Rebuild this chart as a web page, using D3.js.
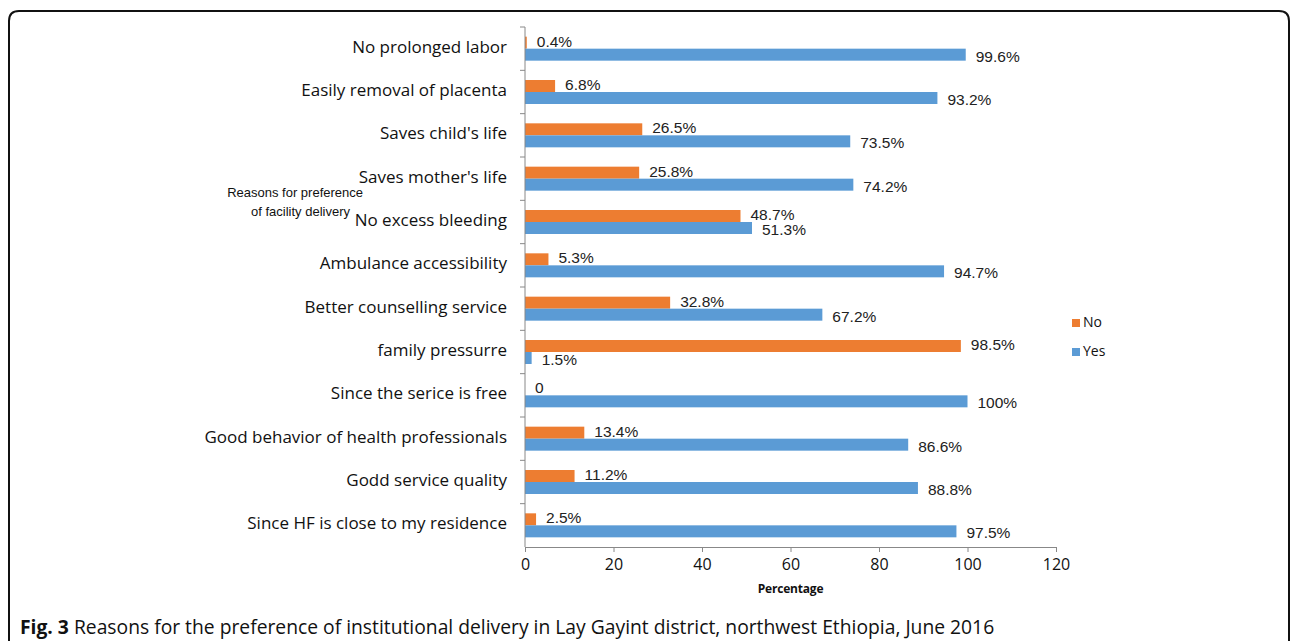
<!DOCTYPE html>
<html>
<head>
<meta charset="utf-8">
<script src="https://cdn.jsdelivr.net/npm/d3@7"></script>
<style>
  html, body { margin: 0; padding: 0; background: #fff; }
  svg { display: block; }
</style>
</head>
<body>
<div id="chart"></div>
<script>
// reasons, top to bottom as in the figure
const categories = [
    "No prolonged labor",
    "Easily removal of placenta",
    "Saves child's life",
    "Saves mother's life",
    "No excess bleeding",
    "Ambulance accessibility",
    "Better counselling service",
    "family pressurre",
    "Since the serice is free",
    "Good behavior of health professionals",
    "Godd service quality",
    "Since HF is close to my residence"
]
const noValues = [0.4, 6.8, 26.5, 25.8, 48.7, 5.3, 32.8, 98.5, 0, 13.4, 11.2, 2.5]
const yesValues = [99.6, 93.2, 73.5, 74.2, 51.3, 94.7, 67.2, 1.5, 100, 86.6, 88.8, 97.5]
const xTicks = [0, 20, 40, 60, 80, 100, 120]
const seriesNames = ["No", "Yes"]
const seriesColors = ["#ED7D31", "#5B9BD5"]

const width = 1292, height = 641
const plot = {left: 525, right: 1056, top: 27, bottom: 547}

const svg = d3.select("#chart").append("svg")
    .attr("width", width)
    .attr("height", height)

// figure frame (open at the bottom)
const r = 10
svg.append("path")
    .attr("d", `M9,${height + 5} L9,${11 + r} Q9,11 ${9 + r},11 L${1289 - r},11 Q1289,11 1289,${11 + r} L1289,${height + 5}`)
    .attr("fill", "none")
    .attr("stroke", "#111")
    .attr("stroke-width", 2)

const x = d3.scaleLinear().domain([0, 120]).range([plot.left, plot.right])
const y = d3.scaleBand().domain(categories).range([plot.top, plot.bottom])
const sub = d3.scaleBand().domain(seriesNames).range([y.bandwidth() / 2 - 12, y.bandwidth() / 2 + 12])

const rows = categories.map((c, i) => ({cat: c, values: [noValues[i], yesValues[i]]}))

const groups = svg.append("g")
    .selectAll("g")
    .data(rows)
    .enter()
    .append("g")
    .attr("transform", d => `translate(0, ${y(d.cat)})`)

const fmt = v => v === 0 ? "0" : v + "%"

seriesNames.forEach((s, k) => {
    groups.append("rect")
        .attr("x", x(0))
        .attr("y", sub(s))
        .attr("width", d => x(d.values[k]) - x(0))
        .attr("height", sub.bandwidth())
        .attr("fill", seriesColors[k])

    groups.append("text")
        .text(d => fmt(d.values[k]))
        .attr("x", d => x(d.values[k]) + 10)
        .attr("y", sub(s) + sub.bandwidth() / 2 + (k === 0 ? -1.5 : 1.5))
        .attr("dy", "0.35em")
        .attr("font-family", "Liberation Sans, Arial, sans-serif")
        .attr("font-size", 15.5)
        .attr("fill", "#222")
})

// y axis: line plus ticks at band edges
const yAxis = svg.append("g")
yAxis.append("line")
    .attr("x1", plot.left).attr("x2", plot.left)
    .attr("y1", plot.top).attr("y2", plot.bottom)
    .attr("stroke", "#888")
yAxis.selectAll("line.tick")
    .data(categories)
    .enter()
    .append("line")
    .attr("class", "tick")
    .attr("x1", plot.left - 5).attr("x2", plot.left)
    .attr("y1", d => y(d)).attr("y2", d => y(d))
    .attr("stroke", "#888")
yAxis.selectAll("text")
    .data(categories)
    .enter()
    .append("text")
    .text(d => d)
    .attr("x", plot.left - 18)
    .attr("y", d => y(d) + y.bandwidth() / 2 - 2)
    .attr("dy", "0.35em")
    .attr("text-anchor", "end")
    .attr("font-family", "Open Sans, sans-serif")
    .attr("font-size", 17)
    .attr("fill", "#111")

// x axis
const xAxis = svg.append("g")
    .attr("transform", `translate(0, ${plot.bottom})`)
    .call(d3.axisBottom(x).tickValues(xTicks).tickSize(5).tickSizeOuter(0))
xAxis.select(".domain").attr("stroke", "#888")
xAxis.selectAll(".tick line").attr("stroke", "#888")
xAxis.selectAll(".tick text")
    .attr("font-family", "Open Sans, sans-serif")
    .attr("font-size", 16)
    .attr("fill", "#111")
    .attr("dy", "0.95em")

svg.append("text")
    .text("Percentage")
    .attr("x", (plot.left + plot.right) / 2)
    .attr("y", 593)
    .attr("text-anchor", "middle")
    .attr("font-family", "Open Sans, sans-serif")
    .attr("font-weight", "bold")
    .attr("font-size", 12)
    .attr("letter-spacing", -0.2)
    .attr("fill", "#111")

// y axis title
const yTitle = svg.append("text")
    .attr("text-anchor", "end")
    .attr("font-family", "Liberation Sans, Arial, sans-serif")
    .attr("font-size", 13)
    .attr("fill", "#111")
yTitle.append("tspan").attr("x", 363).attr("y", 197).text("Reasons for preference")
yTitle.append("tspan").attr("x", 350).attr("y", 216).text("of facility delivery")

// legend
const legend = svg.append("g")
    .selectAll("g")
    .data(seriesNames)
    .enter()
    .append("g")
    .attr("transform", (d, i) => `translate(1072, ${319 + i * 29})`)
legend.append("rect")
    .attr("width", 8).attr("height", 8)
    .attr("fill", (d, i) => seriesColors[i])
legend.append("text")
    .text(d => d)
    .attr("x", 11)
    .attr("y", 3)
    .attr("dy", "0.35em")
    .attr("font-family", "Open Sans, sans-serif")
    .attr("font-size", 14)
    .attr("fill", "#111")

// caption
const cap = svg.append("text")
    .attr("x", 20)
    .attr("y", 634)
    .attr("font-family", "Open Sans, sans-serif")
    .attr("font-size", 19.3)
    .attr("fill", "#111")
cap.append("tspan").attr("font-weight", "bold").text("Fig. 3")
cap.append("tspan").text(" Reasons for the preference of institutional delivery in Lay Gayint district, northwest Ethiopia, June 2016")
</script>
</body>
</html>
